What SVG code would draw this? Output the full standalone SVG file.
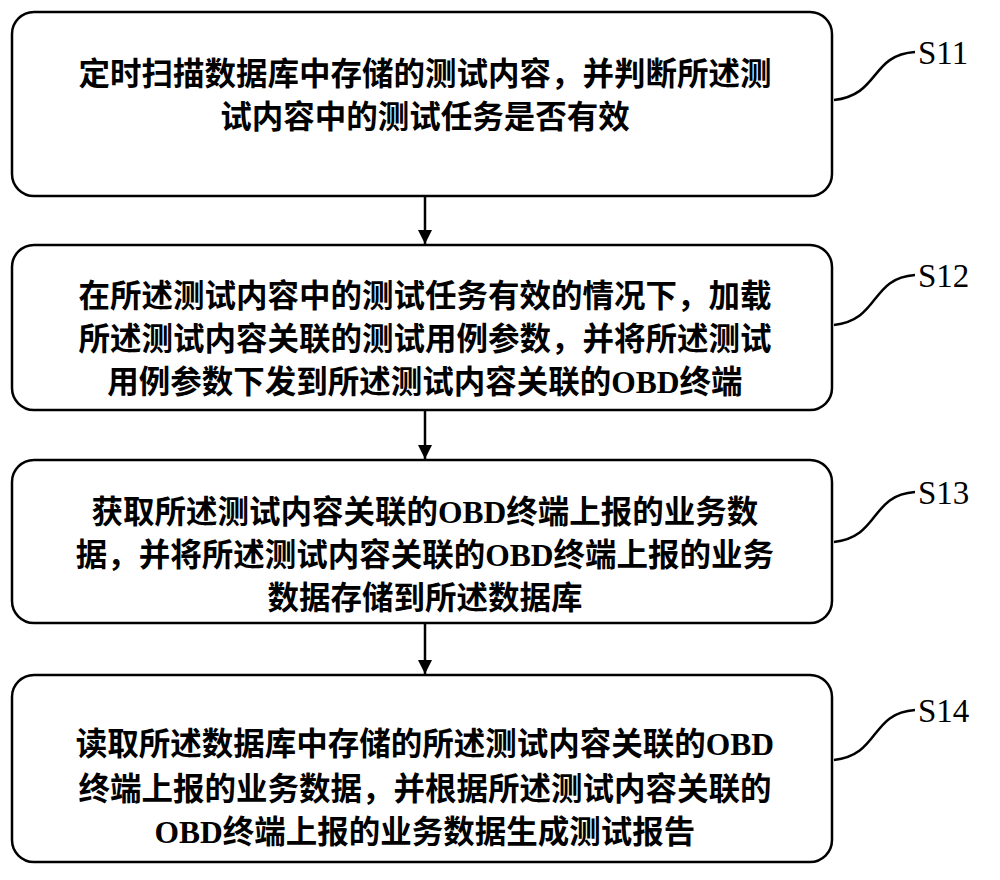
<svg xmlns="http://www.w3.org/2000/svg" width="1000" height="880" viewBox="0 0 1000 880">
<style>
.box{fill:#fff;stroke:#000;stroke-width:2.5}
.t{font-family:"Liberation Serif","Noto Sans CJK SC",serif;font-size:31.5px;font-weight:bold;text-anchor:middle}
.lbl{font-family:"Liberation Serif","Noto Sans CJK SC",serif;font-size:33px}
.c{fill:none;stroke:#000;stroke-width:2.5}
</style>
<defs>
<marker id="ah" viewBox="0 0 10 10" markerWidth="14" markerHeight="16" refX="10" refY="5" orient="auto" markerUnits="userSpaceOnUse"><path d="M0,0 L10,5 L0,10 z"/></marker></defs>
<rect width="1000" height="880" fill="#fff"/>
<g id="connectors">
<line class="c" x1="425" y1="196" x2="425" y2="244" marker-end="url(#ah)"/>
<line class="c" x1="425" y1="410" x2="425" y2="459" marker-end="url(#ah)"/>
<line class="c" x1="425" y1="623" x2="425" y2="674" marker-end="url(#ah)"/>
<path class="c" d="M834,100 C880,95 870,55 915,52"/>
<path class="c" d="M834,325 C880,320 870,278 915,275"/>
<path class="c" d="M834,542 C880,537 870,495 915,492"/>
<path class="c" d="M834,760 C880,755 870,713 915,710"/>
</g>
<g id="s11"><rect class="box" x="12" y="12" width="820" height="184" rx="22"/>
<text class="t" x="425" y="85">定时扫描数据库中存储的测试内容，并判断所述测</text>
<text class="t" x="425" y="128">试内容中的测试任务是否有效</text>
<text class="lbl" x="918" y="64">S11</text></g>
<g id="s12"><rect class="box" x="12" y="245" width="820" height="165" rx="22"/>
<text class="t" x="425" y="307">在所述测试内容中的测试任务有效的情况下，加载</text>
<text class="t" x="425" y="350">所述测试内容关联的测试用例参数，并将所述测试</text>
<text class="t" x="425" y="393">用例参数下发到所述测试内容关联的OBD终端</text>
<text class="lbl" x="918" y="287">S12</text></g>
<g id="s13"><rect class="box" x="12" y="460" width="820" height="163" rx="22"/>
<text class="t" x="425" y="523">获取所述测试内容关联的OBD终端上报的业务数</text>
<text class="t" x="425" y="566">据，并将所述测试内容关联的OBD终端上报的业务</text>
<text class="t" x="425" y="609">数据存储到所述数据库</text>
<text class="lbl" x="918" y="504">S13</text></g>
<g id="s14"><rect class="box" x="12" y="675" width="820" height="187" rx="22"/>
<text class="t" x="425" y="755">读取所述数据库中存储的所述测试内容关联的OBD</text>
<text class="t" x="425" y="800">终端上报的业务数据，并根据所述测试内容关联的</text>
<text class="t" x="425" y="843">OBD终端上报的业务数据生成测试报告</text>
<text class="lbl" x="918" y="722">S14</text></g>
</svg>
